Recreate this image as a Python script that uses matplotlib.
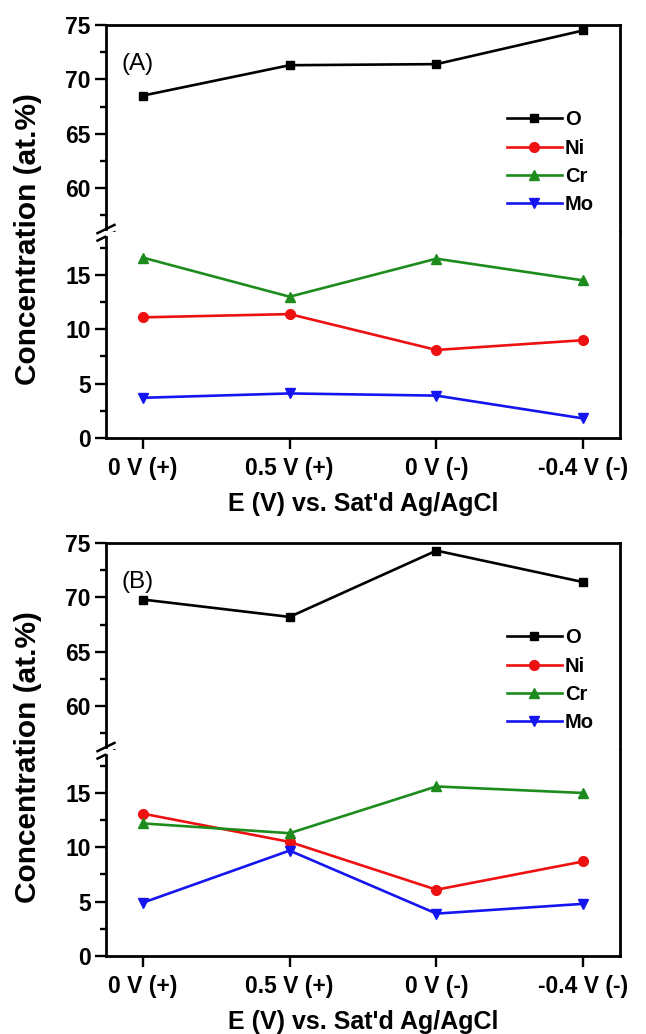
import numpy as np
import matplotlib
matplotlib.use("Agg")
import matplotlib.pyplot as plt
from matplotlib.ticker import MultipleLocator

plt.rcParams['font.family'] = ['Liberation Sans', 'DejaVu Sans']

categories = ['0 V (+)', '0.5 V (+)', '0 V (-)', '-0.4 V (-)']
elements = ['O', 'Ni', 'Cr', 'Mo']

# panel A
a_O = [68.5, 71.3, 71.4, 74.5]
a_Ni = [11.1, 11.4, 8.1, 9.0]
a_Cr = [16.6, 13.0, 16.5, 14.5]
a_Mo = [3.7, 4.1, 3.9, 1.8]

# panel B
b_O = [69.8, 68.2, 74.3, 71.4]
b_Ni = [13.1, 10.5, 6.1, 8.7]
b_Cr = [12.2, 11.3, 15.6, 15.0]
b_Mo = [4.9, 9.7, 3.9, 4.8]

colors = {'O': 'black', 'Ni': '#ee1111', 'Cr': '#1d8c1d', 'Mo': '#1515f0'}
markers = {'O': 's', 'Ni': 'o', 'Cr': '^', 'Mo': 'v'}
msizes = {'O': 6, 'Ni': 7, 'Cr': 7.5, 'Mo': 7.5}

W, H = 646, 1034
fig = plt.figure(figsize=(W / 100, H / 100), dpi=100)

left = 106 / W
width = (620 - 106) / W
TICK_FS = 16.5


def style_axis(ax):
    for s in ax.spines.values():
        s.set_linewidth(2)
    ax.tick_params(axis='y', which='major', direction='out', length=8, width=1.7,
                   labelsize=TICK_FS, pad=3, right=False)
    ax.tick_params(axis='y', which='minor', direction='out', length=4.5, width=1.7, right=False)
    for lab in ax.get_yticklabels():
        lab.set_fontweight('bold')


def panel(top_px, bot_px, data, tag):
    mid = (top_px + bot_px) / 2
    h = (bot_px - top_px) / 2 / H
    ax_hi = fig.add_axes([left, 1 - mid / H, width, h])
    ax_lo = fig.add_axes([left, 1 - bot_px / H, width, h])
    x = np.arange(len(categories))
    for el, vals in zip(elements, data):
        for ax in (ax_hi, ax_lo):
            ax.plot(x, vals, color=colors[el], marker=markers[el], ms=msizes[el],
                    lw=1.9, label=el)
    for ax in (ax_hi, ax_lo):
        ax.set_xlim(-0.25, 3.25)
    ax_hi.set_ylim(56, 75)
    ax_lo.set_ylim(0, 19)
    ax_hi.yaxis.set_minor_locator(MultipleLocator(2.5))
    ax_lo.yaxis.set_minor_locator(MultipleLocator(2.5))
    ax_hi.set_yticks([60, 65, 70, 75])
    ax_lo.set_yticks([0, 5, 10, 15])
    ax_hi.spines['bottom'].set_visible(False)
    ax_lo.spines['top'].set_visible(False)
    ax_hi.tick_params(axis='x', bottom=False, labelbottom=False)
    ax_lo.set_xticks(x)
    ax_lo.set_xticklabels(categories, fontweight='bold')
    ax_lo.tick_params(axis='x', direction='out', length=8, width=1.7, labelsize=TICK_FS,
                      pad=6, top=False)
    style_axis(ax_hi)
    style_axis(ax_lo)
    # gap in the left spine with break marks
    ax_hi.spines['left'].set_bounds(56.25, 75)
    ax_lo.spines['left'].set_bounds(0, 18.5)
    for yc in (0.012, -0.024):
        ax_hi.plot([-0.0165, 0.0165], [yc - 0.02, yc + 0.02], transform=ax_hi.transAxes,
                   color='black', lw=1.8, clip_on=False)
    ax_hi.text(0.031, 0.81, tag, transform=ax_hi.transAxes, fontsize=17.5,
               va='center', ha='left')
    ax_hi.legend(loc='upper left', bbox_to_anchor=(0.765, 0.625), frameon=False,
                 numpoints=1, handlelength=2.7, handletextpad=0.15, labelspacing=0.45,
                 borderaxespad=0, prop={'weight': 'bold', 'size': 14.5})
    ax_lo.set_xlabel("E (V) vs. Sat'd Ag/AgCl", fontsize=18, fontweight='bold', labelpad=8)
    fig.text(28 / W, 1 - (mid + 8) / H, 'Concentration (at.%)', rotation=90, fontsize=21.5,
             fontweight='bold', ha='center', va='center')
    return ax_hi, ax_lo


panel(25, 438, [a_O, a_Ni, a_Cr, a_Mo], '(A)')
panel(543, 956, [b_O, b_Ni, b_Cr, b_Mo], '(B)')

fig.savefig('out.png', dpi=100)
